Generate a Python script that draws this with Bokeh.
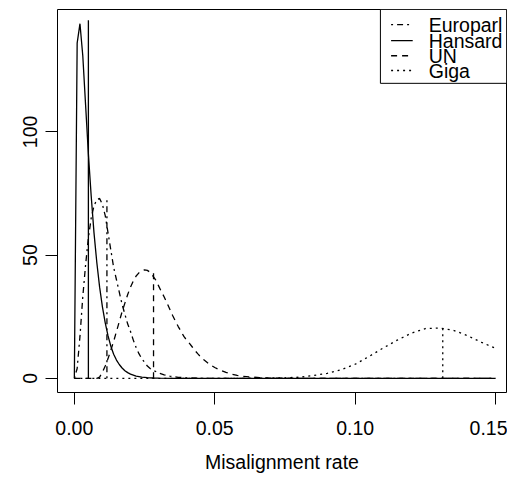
from bokeh.plotting import figure
from bokeh.models import Range1d, FixedTicker, NumeralTickFormatter
from bokeh.core.properties import value
from bokeh.embed import file_html
from bokeh.resources import INLINE

# ---- data (density curves) ----
series_names = ["Europarl", "Hansard", "UN", "Giga"]

europarl_x = [0.000, 0.001, 0.002, 0.003, 0.004, 0.005, 0.006, 0.007, 0.008, 0.009,
              0.010, 0.011, 0.012, 0.013, 0.014, 0.015, 0.016, 0.017, 0.018, 0.019,
              0.020, 0.021, 0.022, 0.023, 0.024, 0.025, 0.026, 0.027, 0.028,
              0.030, 0.032, 0.034, 0.037, 0.040, 0.045, 0.150]
europarl_y = [0, 4, 17, 33, 46, 57, 65, 70, 72.5, 73,
              70.5, 66, 59, 52, 45, 40, 35, 30, 26, 22,
              19, 15.5, 12.5, 10, 8, 6.5, 5, 4, 3.3,
              2.2, 1.4, 0.9, 0.4, 0.2, 0, 0]

hansard_x = [0.000, 0.001, 0.002, 0.003, 0.004, 0.005, 0.006, 0.007, 0.008, 0.009,
             0.010, 0.011, 0.012, 0.013, 0.014, 0.015, 0.016, 0.017, 0.018, 0.019,
             0.020, 0.022, 0.024, 0.026, 0.028, 0.030, 0.035, 0.150]
hansard_y = [0, 136, 143.9, 131, 111, 91, 74, 59, 47, 37,
             29, 22.5, 17.2, 13, 9.8, 7.4, 5.6, 4.2, 3.1, 2.3,
             1.7, 0.9, 0.5, 0.25, 0.13, 0.07, 0, 0]

un_x = [0.000, 0.008, 0.009, 0.010, 0.011, 0.012, 0.013, 0.014, 0.015, 0.016,
        0.017, 0.018, 0.019, 0.020, 0.021, 0.022, 0.023, 0.024, 0.025, 0.026,
        0.027, 0.028, 0.029, 0.030, 0.031, 0.032, 0.033, 0.034, 0.035, 0.036,
        0.037, 0.038, 0.039, 0.040, 0.041, 0.042, 0.043, 0.044, 0.045, 0.046,
        0.047, 0.048, 0.049, 0.050, 0.052, 0.054, 0.056, 0.058, 0.060, 0.063,
        0.066, 0.070, 0.075, 0.150]
un_y = [0, 0, 0.5, 2.5, 5, 8, 11.5, 15, 19, 23,
        27, 30.5, 34, 37, 39.5, 41.5, 42.8, 43.6, 44, 43.8,
        43, 41.5, 39.8, 37.5, 35.2, 33, 30.5, 28, 25.5, 23.2,
        21, 19, 17, 15.5, 14.2, 12.7, 11.2, 9.9, 8.7, 7.6,
        6.7, 5.8, 5.1, 4.4, 3.3, 2.4, 1.7, 1.2, 0.8, 0.5,
        0.3, 0.1, 0, 0]

giga_x = [0.000, 0.060, 0.065, 0.070, 0.075, 0.080, 0.085, 0.090, 0.095, 0.100,
          0.105, 0.110, 0.115, 0.120, 0.125, 0.130, 0.135, 0.140, 0.145, 0.150]
giga_y = [0, 0, 0.05, 0.1, 0.2, 0.45, 1.1, 2.0, 3.5, 5.7,
          8.9, 12.3, 15.5, 18.3, 20.2, 20.4, 19.5, 17.3, 14.6, 12.2]

# vertical marker lines (estimated rate, drawn up to curve maximum)
vline_x = [0.0116, 0.0050, 0.0282, 0.1312]
vline_top = [73.0, 145.3, 43.7, 20.4]

x_ticks = [0.00, 0.05, 0.10, 0.15]
y_ticks = [0, 50, 100]
x_title = "Misalignment rate"

# ---- styles ----
dashes = ["2 4 6 4", "solid", "6 5", "2 4"]
FONT = "Liberation Sans"
FS = "19.5px"
LW = 1.3

X0, X1 = -0.006, 0.1539
Y0, Y1 = -5.756, 149.66

p = figure(width=507, height=477,
           x_range=Range1d(X0, X1), y_range=Range1d(Y0, Y1),
           output_backend="svg", toolbar_location=None,
           min_border_left=57, min_border_right=1, min_border_top=9, min_border_bottom=85)
p.background_fill_color = "white"
p.border_fill_color = "white"
p.outline_line_color = "black"
p.outline_line_width = 1
p.grid.visible = False

curves = [(europarl_x, europarl_y), (hansard_x, hansard_y), (un_x, un_y), (giga_x, giga_y)]
for (xs, ys), d in zip(curves, dashes):
    p.line(xs, ys, line_color="black", line_width=LW, line_dash=d)

for vx, vt, d in zip(vline_x, vline_top, dashes):
    p.segment(x0=[vx], y0=[0], x1=[vx], y1=[vt], line_color="black", line_width=LW, line_dash=d)

# axes
for ax in (p.xaxis[0], p.yaxis[0]):
    ax.axis_line_color = None
    ax.major_tick_out = 12
    ax.major_tick_in = 0
    ax.minor_tick_line_color = None
    ax.major_tick_line_color = "black"
    ax.major_tick_line_width = 1
    ax.major_label_text_font = FONT
    ax.major_label_text_font_size = FS
    ax.major_label_text_color = "black"

p.xaxis.ticker = FixedTicker(ticks=x_ticks)
p.xaxis.formatter = NumeralTickFormatter(format="0.00")
p.xaxis.major_label_standoff = 16
p.xaxis.axis_label = x_title
p.xaxis.axis_label_text_font = FONT
p.xaxis.axis_label_text_font_size = FS
p.xaxis.axis_label_text_font_style = "normal"
p.xaxis.axis_label_text_color = "black"
p.xaxis.axis_label_standoff = 13

p.yaxis.ticker = FixedTicker(ticks=y_ticks)
p.yaxis.major_label_orientation = "vertical"
p.yaxis.major_label_standoff = 8

# legend (top right, R style)
leg_left, leg_bottom = 0.1090, 119.7
leg_rows = [143.5, 137.0, 130.9, 124.9]
leg_line_x0, leg_line_x1, leg_text_x = 0.1128, 0.1205, 0.1262
p.quad(left=[leg_left], right=[X1], bottom=[leg_bottom], top=[Y1],
       fill_color="white", line_color="black", line_width=1)
for name, yy, d in zip(series_names, leg_rows, dashes):
    p.segment(x0=[leg_line_x0], y0=[yy], x1=[leg_line_x1], y1=[yy],
              line_color="black", line_width=LW, line_dash=d)
p.text(x=[leg_text_x] * 4, y=leg_rows, text=series_names,
       text_font=value(FONT), text_font_size=FS, text_baseline="middle",
       text_align="left", text_color="black")

open("out.html", "w").write(file_html(p, INLINE))
